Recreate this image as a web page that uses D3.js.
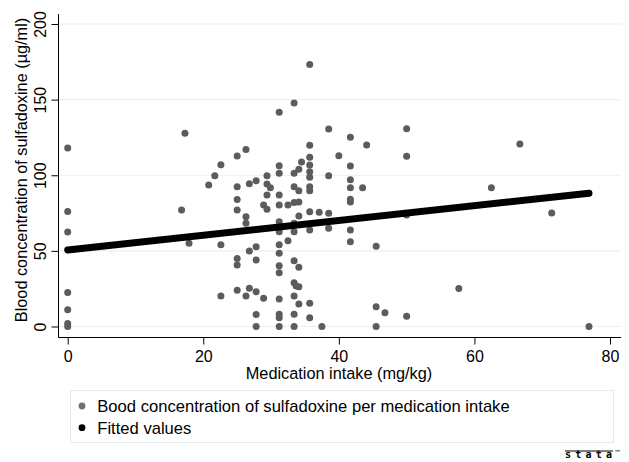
<!DOCTYPE html>
<html>
<head>
<meta charset="utf-8">
<script src="https://cdn.jsdelivr.net/npm/d3@7"></script>
<style>
  body { margin: 0; background: #fff; }
  svg { display: block; font-family: "Liberation Sans", Arial, sans-serif; }
</style>
</head>
<body>
<svg id="chart" width="629" height="462"></svg>
<script>
// medication intake (mg/kg) and blood concentration (ug/ml)
const intake = [
  0, 0, 0, 0, 0, 0, 0,
  16.8, 17.3, 17.9, 20.8, 21.7, 22.6, 22.6, 22.6,
  25, 25, 25, 25, 25, 25, 25,
  26.3, 26.3, 26.3, 26.3,
  26.8, 26.8, 26.8,
  27.8, 27.8, 27.8, 27.8, 27.8, 27.8,
  28.9, 28.9,
  29.4, 29.4, 29.4, 29.4, 29.9,
  31.2, 31.2, 31.2, 31.2, 31.2, 31.2, 31.2, 31.2, 31.2, 31.2, 31.2, 31.2, 31.2, 31.2, 31.2,
  32.5, 32.5,
  33.4, 33.4, 33.4, 33.4, 33.4, 33.4, 33.4, 33.4, 33.4, 33.4, 33.4,
  33.7,
  34.1, 34.1, 34.1, 34.1, 34.1, 34.1, 34.1, 34.5,
  35.7, 35.7, 35.7, 35.7, 35.7, 35.7, 35.7, 35.7, 35.7, 35.7, 35.7, 35.7,
  37.1, 37.5,
  38.5, 38.5, 38.5, 38.5, 40,
  41.7, 41.7, 41.7, 41.7, 41.7, 41.7, 41.7, 41.7,
  43.5, 44.1, 45.5, 45.5, 45.5, 46.8,
  50, 50, 50, 50,
  57.7, 62.5, 66.7, 71.4, 76.9
];
const concentration = [
  118, 76, 62.5, 22.5, 11, 2, 0,
  77, 127.7, 55, 93.5, 99.7, 107, 54, 20.2,
  112.7, 92.4, 84, 77, 45, 40.7, 24,
  117, 72.6, 68.2, 20.2,
  94.4, 49.9, 25.3,
  96.4, 52.8, 44, 23, 8, 0,
  80.3, 18.6,
  99.7, 94.2, 87, 77.5, 91.8,
  141.6, 106.3, 101.3, 87, 80.3, 69.3, 62.7, 54, 48.4, 40.2, 35.6, 18.2, 8.1, 5.8, 0,
  80.3, 56.7,
  147.8, 101.3, 92.4, 82, 68.2, 62.7, 43.5, 29, 20.2, 8.1, 0,
  26.8,
  103.9, 89.8, 82.3, 73.1, 39.1, 26.3, 14.9, 108.8,
  173.3, 119.8, 111.9, 106.8, 102.3, 98.6, 92.4, 89.8, 75.9, 63.8, 15.3, 5.8,
  75.5, 0,
  130.6, 99.7, 74.8, 64.9, 112.9,
  125.1, 106.1, 97.1, 91.8, 84.1, 82.3, 63.8, 56.1,
  91.8, 120, 53, 13.1, 0, 9.1,
  130.8, 112.5, 73.7, 6.7,
  25.2, 91.8, 120.7, 75, 0
];

// fitted regression line, ends
const fitX = [0, 76.9];
const fitY = [50.6, 88.1];

const xTicks = [0, 20, 40, 60, 80];
const yTicks = [0, 50, 100, 150, 200];
const legendLabels = ['Bood concentration of sulfadoxine per medication intake', 'Fitted values'];

const svg = d3.select('#chart');
const x = d3.scaleLinear().domain([0, 80]).range([67.7, 610]);
const y = d3.scaleLinear().domain([0, 200]).range([326.5, 24]);
const plotLeft = 58.5, plotRight = 621, plotTop = 14, plotBottom = 337.5;
const dotColor = '#5c5c5c';

// grid
svg.append('g').selectAll('line')
  .data(yTicks)
  .join('line')
  .attr('x1', plotLeft).attr('x2', plotRight)
  .attr('y1', d => y(d)).attr('y2', d => y(d))
  .attr('stroke', '#e8f0f1').attr('stroke-width', 1.2);

// y axis
const yAxis = svg.append('g')
  .attr('transform', `translate(${plotLeft},0)`)
  .call(d3.axisLeft(y).tickValues(yTicks).tickSize(7).tickPadding(6));
yAxis.select('.domain').attr('d', `M0,${plotTop}V${plotBottom}`).attr('stroke', '#000');
yAxis.selectAll('.tick line').attr('stroke', '#000');
yAxis.selectAll('.tick text')
  .attr('font-size', 16)
  .attr('fill', '#000')
  .attr('transform', 'rotate(-90,-13,0)')
  .attr('x', -13).attr('y', 0).attr('dy', 0)
  .attr('text-anchor', 'middle');

// x axis
const xAxis = svg.append('g')
  .attr('transform', `translate(0,${plotBottom})`)
  .call(d3.axisBottom(x).tickValues(xTicks).tickSize(7).tickPadding(6));
xAxis.select('.domain').attr('d', `M${plotLeft},0H${plotRight}`).attr('stroke', '#000');
xAxis.selectAll('.tick line').attr('stroke', '#000');
xAxis.selectAll('.tick text').attr('font-size', 16).attr('fill', '#000').attr('dy', null).attr('y', 24.5);

// titles
svg.append('text')
  .attr('x', 339).attr('y', 378.5)
  .attr('text-anchor', 'middle').attr('font-size', 16.3)
  .text('Medication intake (mg/kg)');
svg.append('text')
  .attr('transform', 'translate(27,170) rotate(-90)')
  .attr('text-anchor', 'middle').attr('font-size', 16.3)
  .text('Blood concentration of sulfadoxine (µg/ml)');

// scatter
svg.append('g').selectAll('circle')
  .data(intake.map((d, i) => [d, concentration[i]]))
  .join('circle')
  .attr('cx', d => x(d[0])).attr('cy', d => y(d[1]))
  .attr('r', 3.5)
  .attr('fill', dotColor);

// fitted values
svg.append('line')
  .attr('x1', x(fitX[0])).attr('y1', y(fitY[0]))
  .attr('x2', x(fitX[1])).attr('y2', y(fitY[1]))
  .attr('stroke', '#000').attr('stroke-width', 7)
  .attr('stroke-linecap', 'round');

// legend
const legend = svg.append('g');
legend.append('rect')
  .attr('x', 70.5).attr('y', 390.5).attr('width', 543).attr('height', 52)
  .attr('fill', '#fff').attr('stroke', '#e3eced');
legend.selectAll('circle')
  .data(legendLabels)
  .join('circle')
  .attr('cx', 82).attr('cy', (d, i) => 406 + i * 21.7)
  .attr('r', 3.4)
  .attr('fill', (d, i) => i === 0 ? '#707070' : '#000');
legend.selectAll('text')
  .data(legendLabels)
  .join('text')
  .attr('x', 97.3).attr('y', (d, i) => 412 + i * 21.7)
  .attr('font-size', 16.6)
  .text(d => d);

// stata logo
svg.append('line')
  .attr('x1', 565).attr('x2', 613).attr('y1', 451).attr('y2', 451)
  .attr('stroke', '#000').attr('stroke-width', 1);
svg.append('text')
  .attr('x', 565).attr('y', 458)
  .attr('font-size', 10).attr('font-weight', 'bold')
  .attr('font-family', '"DejaVu Sans Mono", monospace')
  .attr('textLength', 47).attr('lengthAdjust', 'spacing')
  .text('stata');
svg.append('text')
  .attr('x', 614).attr('y', 455)
  .attr('font-size', 7).attr('font-family', '"DejaVu Sans", sans-serif')
  .text('™');
</script>
</body>
</html>
